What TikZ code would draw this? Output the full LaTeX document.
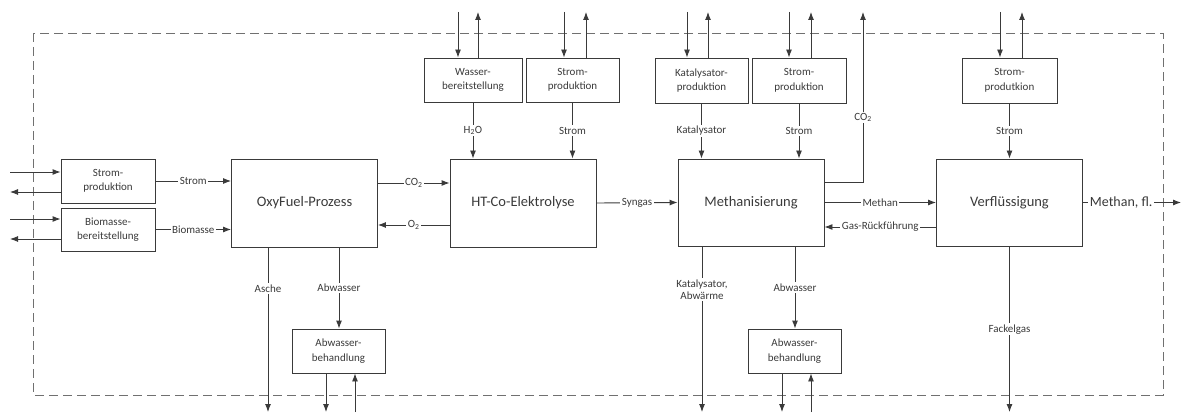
\documentclass[tikz,border=0pt]{standalone}
\usepackage{fontspec}
\setmainfont{Carlito}
\usetikzlibrary{arrows.meta}

\definecolor{linie}{HTML}{3A3A3A}
\definecolor{rahmen}{HTML}{707070}

\tikzset{
  box/.style={draw=linie, line width=0.9pt, align=center, text=linie,
    font=\fontsize{11}{14.5}\selectfont, inner sep=2pt},
  kleinbox/.style={box, minimum width=94pt, minimum height=44pt},
  grossbox/.style={box, minimum width=146pt, minimum height=88pt,
    font=\fontsize{14.5}{16}\selectfont},
  pfeil/.style={draw=linie, line width=0.9pt, -{Latex[length=8pt,width=6pt]}},
  flow/.style={fill=white, inner sep=1.5pt, text=linie, align=center,
    font=\fontsize{11}{12.5}\selectfont},
}

\begin{document}
\begin{tikzpicture}[x=1pt, y=-1pt]
  \useasboundingbox (0,0) rectangle (1184,414);

  % Systemgrenze
  \draw[rahmen, line width=0.9pt, dash pattern=on 9pt off 5pt] (33,33) rectangle (1163,395);

  % freie Enden
  \coordinate (links) at (10,0);
  \coordinate (rechts) at (1181,0);
  \coordinate (oben) at (0,12);
  \coordinate (unten) at (0,412);

  % Hauptprozesse
  \node[grossbox] (oxy) at (304.5,203) {OxyFuel-Prozess};
  \node[grossbox] (ht) at (523,203) {HT-Co-Elektrolyse};
  \node[grossbox, minimum height=87pt] (meth) at (751,202.5) {Methanisierung};
  \node[grossbox, minimum height=87pt] (verfl) at (1009.5,202.5) {Verflüssigung};

  % Vorketten
  \node[kleinbox] (spA) at (108,181) {Strom-\\produktion};
  \node[kleinbox, minimum height=43pt] (bio) at (108,229.5) {Biomasse-\\bereitstellung};
  \node[kleinbox, minimum width=98pt] (wasser) at (473,80) {Wasser-\\bereitstellung};
  \node[kleinbox, minimum width=93pt] (spB) at (572.5,80) {Strom-\\produktion};
  \node[kleinbox, minimum width=93pt, minimum height=45pt] (kat) at (701.5,80.5) {Katalysator-\\produktion};
  \node[kleinbox, minimum height=45pt] (spC) at (799,80.5) {Strom-\\produktion};
  \node[kleinbox, minimum width=95pt, minimum height=45pt] (spD) at (1009.5,80.5) {Strom-\\produtkion};
  \node[kleinbox, minimum width=93pt] (abwA) at (338.5,351) {Abwasser-\\behandlung};
  \node[kleinbox, minimum width=93pt] (abwB) at (794.5,351) {Abwasser-\\behandlung};

  % links: Ein- und Ausgang
  \foreach \n/\a/\b in {spA/9/-11, bio/10.5/-9.5} {
    \draw[pfeil] ([yshift=\a pt]\n.west -| links) -- ([yshift=\a pt]\n.west);
    \draw[pfeil] ([yshift=\b pt]\n.west) -- ([yshift=\b pt]\n.west -| links);
  }
  \draw[pfeil] (spA.east) -- (spA.east -| oxy.west) node[flow, midway] {Strom};
  \draw[pfeil] (bio.east) -- (bio.east -| oxy.west) node[flow, midway] {Biomasse};

  % oben: Ein- und Ausgang
  \foreach \n/\a/\b in {wasser/-15/5, spB/-8.5/13.5, kat/-14.5/6.5, spC/-10/12, spD/-9.5/12.5} {
    \draw[pfeil] ([xshift=\a pt]\n.north |- oben) -- ([xshift=\a pt]\n.north);
    \draw[pfeil] ([xshift=\b pt]\n.north) -- ([xshift=\b pt]\n.north |- oben);
  }
  \draw[pfeil] (wasser.south) -- (wasser.south |- ht.north) node[flow, midway] {H\textsubscript{2}O};
  \draw[pfeil] (spB.south) -- (spB.south |- ht.north) node[flow, midway] {Strom};
  \draw[pfeil] (kat.south) -- (kat.south |- meth.north) node[flow, midway] {Katalysator};
  \draw[pfeil] (spC.south) -- (spC.south |- meth.north) node[flow, midway] {Strom};
  \draw[pfeil] (spD.south) -- (spD.south |- verfl.north) node[flow, midway] {Strom};

  % Hauptstrang
  \draw[pfeil] ([yshift=20pt]oxy.east) -- ([yshift=20pt]oxy.east -| ht.west) node[flow, midway] {CO\textsubscript{2}};
  \draw[pfeil] ([yshift=-22pt]ht.west) -- ([yshift=-22pt]ht.west -| oxy.east) node[flow, midway] {O\textsubscript{2}};
  \draw[pfeil] (ht.east) -- (meth.west) node[flow, midway] {Syngas};
  \coordinate (coaus) at (863,12);
  \draw[pfeil] ([yshift=20.5pt]meth.east) -| (coaus) node[flow, pos=0.69] {CO\textsubscript{2}};
  \draw[pfeil] (meth.east) -- (verfl.west) node[flow, midway] {Methan};
  \draw[pfeil] ([yshift=-24.5pt]verfl.west) -- ([yshift=-24.5pt]verfl.west -| meth.east) node[flow, midway] {Gas-Rückführung};
  \draw[pfeil] (verfl.east) -- (verfl.east -| rechts)
    node[flow, pos=0.39, font=\fontsize{14}{16}\selectfont] {Methan, fl.};

  % unten
  \draw[pfeil] ([xshift=-36.5pt]oxy.south) -- ([xshift=-36.5pt]oxy.south |- unten) node[flow, pos=0.25] {Asche};
  \draw[pfeil] ([xshift=34.5pt]oxy.south) -- ([xshift=34.5pt]oxy.south |- abwA.north) node[flow, midway] {Abwasser};
  \draw[pfeil] ([xshift=-49pt]meth.south) -- ([xshift=-49pt]meth.south |- unten) node[flow, pos=0.26] {Katalysator,\\Abwärme};
  \draw[pfeil] ([xshift=44pt]meth.south) -- ([xshift=44pt]meth.south |- abwB.north) node[flow, midway] {Abwasser};
  \draw[pfeil] (verfl.south) -- (verfl.south |- unten) node[flow, midway] {Fackelgas};
  \foreach \n in {abwA, abwB} {
    \draw[pfeil] ([xshift=-12.5pt]\n.south) -- ([xshift=-12.5pt]\n.south |- unten);
    \draw[pfeil] ([xshift=16.5pt]\n.south |- unten) -- ([xshift=16.5pt]\n.south);
  }
\end{tikzpicture}
\end{document}
